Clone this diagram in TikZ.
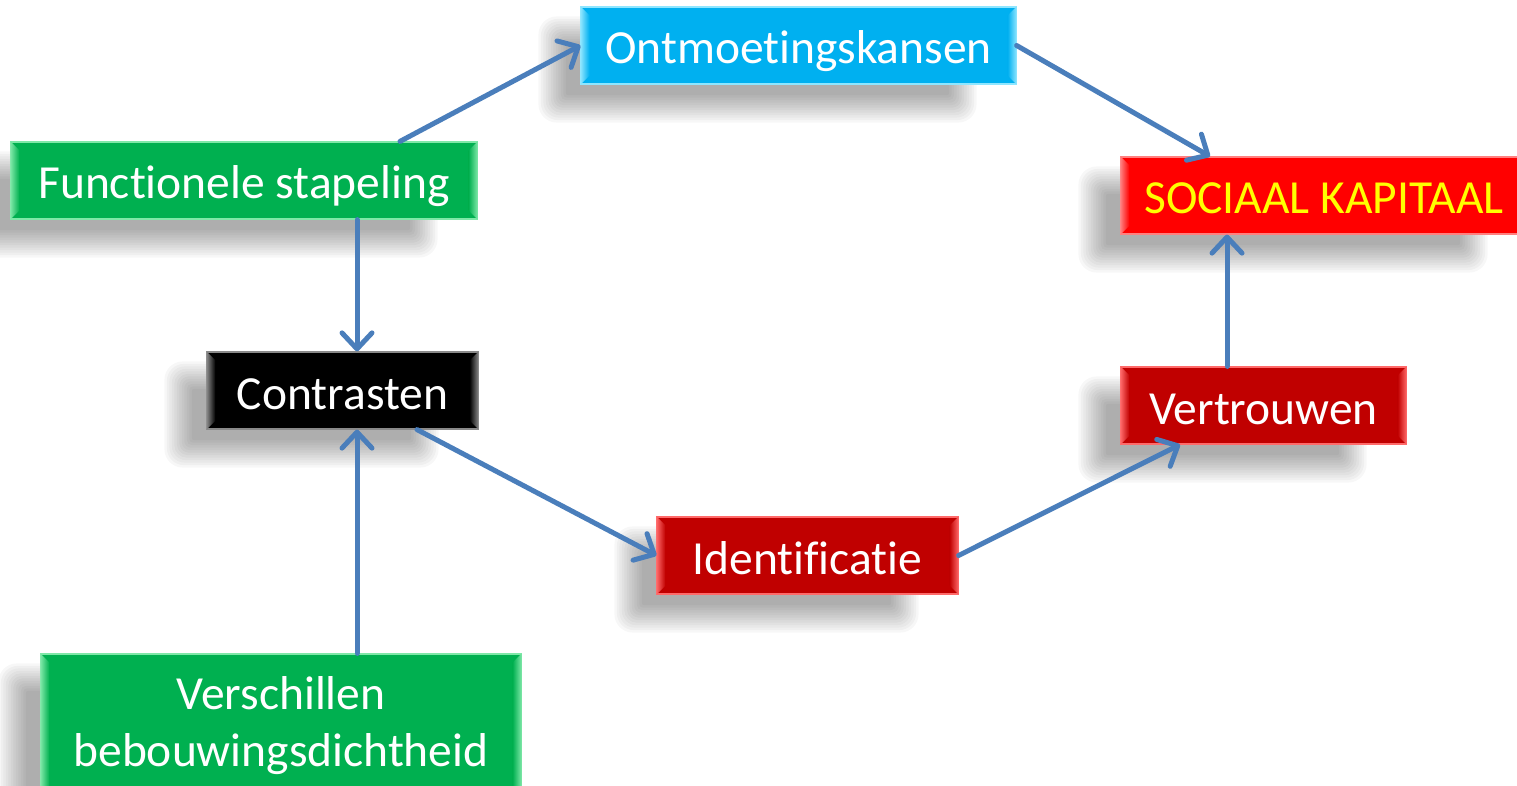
\documentclass[tikz,border=0pt]{standalone}
\usepackage{fontspec}
\setmainfont[Ligatures={NoCommon}]{Carlito}
\usetikzlibrary{arrows.meta,calc,backgrounds}
\definecolor{cblue}{HTML}{00B0F0}
\definecolor{cblueL}{HTML}{8FE6FF}
\definecolor{cgreen}{HTML}{00B050}
\definecolor{cgreenL}{HTML}{7FE8A8}
\definecolor{cred}{HTML}{FF0000}
\definecolor{credL}{HTML}{FF8080}
\definecolor{cdred}{HTML}{C00000}
\definecolor{cdredL}{HTML}{FF6A6A}
\definecolor{cblack}{HTML}{000000}
\definecolor{cblackL}{HTML}{8A8A8A}
\definecolor{carrow}{HTML}{4A7EBB}
\definecolor{cyel}{HTML}{FFFF00}
\tikzset{
  box/.style={rectangle, inner sep=0pt, minimum height=77, text=white,
    font=\fontsize{47.5pt}{57pt}\selectfont, fill=#1, draw=#1L, line width=1.2pt},
  oneline/.style={text height=46pt, text depth=9pt},
  conn/.style={draw=carrow, line width=5pt, line cap=round,
    -{Straight Barb[length=16pt,width=30pt,round]}},
}
\newcommand\bevelbox[3]{%
  \shade[left color=#2, right color=#3] (#1.north west) -- ++(9,9) -- ($(#1.south west)+(9,-9)$) -- (#1.south west) -- cycle;
  \shade[left color=#3, right color=#2] (#1.north east) -- (#1.south east) -- ($(#1.south east)+(-9,-9)$) -- ($(#1.north east)+(-9,9)$) -- cycle;
}
\newcommand\boxshadow[1]{%
  \foreach \k in {0,...,11}{%
    \fill[black, opacity=0.032, rounded corners={2+\k*1.5}]
      ($(#1.north west)+({-42+(11-\k)*2.5},{10+(11-\k)*2.5})$) rectangle
      ($(#1.south east)+({-40-(11-\k)*2.5},{38-(11-\k)*2.5})$);
  }%
}
\begin{document}
\begin{tikzpicture}[x=1pt,y=-1pt]
\useasboundingbox (0,0) rectangle (1517,786);
\node[box=cblue, oneline, minimum width=435] (ont) at (798.5,45.5) {Ontmoetingskansen};
\node[box=cgreen, oneline, minimum width=466] (func) at (244,180.5) {Functionele stapeling};
\node[box=cred, oneline, minimum width=406, text=cyel] (soc) at (1324,195.5) {SOCIAAL KAPITAAL};
\node[box=cblack, oneline, minimum width=271] (con) at (342.5,390.5) {Contrasten};
\node[box=cdred, oneline, minimum width=301] (ide) at (807.5,555.5) {Identificatie};
\node[box=cdred, oneline, minimum width=285] (ver) at (1263.5,405.5) {Vertrouwen};
\node[box=cgreen, minimum width=480, minimum height=144, align=center] (dicht) at (281,726) {Verschillen\\bebouwingsdichtheid};
\begin{pgfonlayer}{background}
  \foreach \n in {ont,func,soc,con,ide,ver,dicht}{\boxshadow{\n}}
\end{pgfonlayer}
\bevelbox{ont}{cblueL}{cblue}
\bevelbox{func}{cgreenL}{cgreen}
\bevelbox{soc}{credL}{cred}
\bevelbox{con}{cblackL}{cblack}
\bevelbox{ide}{cdredL}{cdred}
\bevelbox{ver}{cdredL}{cdred}
\bevelbox{dicht}{cgreenL}{cgreen}
\draw[conn] ($(func.north)+(156,0)$) -- (ont.west);
\draw[conn] (ont.east) -- ($(soc.north)+(-114,0)$);
\draw[conn] ($(func.south)+(113,0)$) -- ($(con.north)+(14.5,0)$);
\draw[conn] ($(dicht.north)+(76,0)$) -- ($(con.south)+(14.5,0)$);
\draw[conn] ($(con.south)+(74.5,0)$) -- (ide.west);
\draw[conn] (ide.east) -- ($(ver.south)+(-83.5,0)$);
\draw[conn] ($(ver.north)+(-36.5,0)$) -- ($(soc.south)+(-97,0)$);
\end{tikzpicture}
\end{document}
